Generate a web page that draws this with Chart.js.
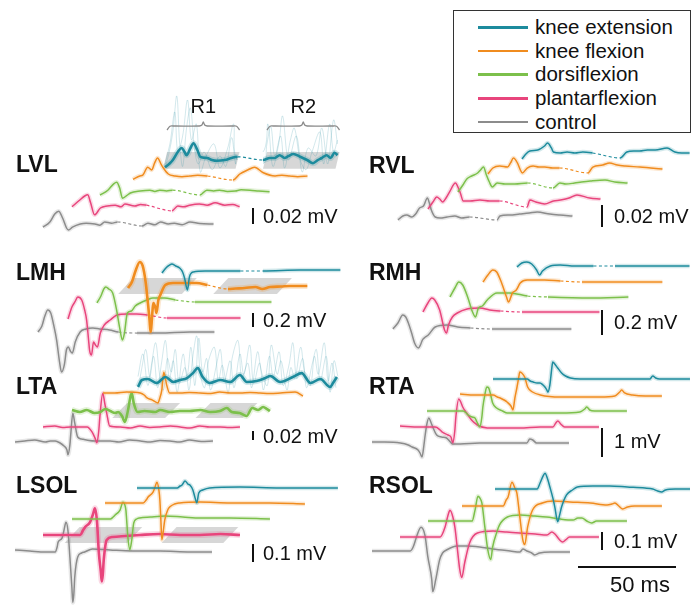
<!DOCTYPE html>
<html>
<head>
<meta charset="utf-8">
<script src="https://cdn.jsdelivr.net/npm/chart.js@4/dist/chart.umd.min.js"></script>
<style>
  body { margin: 0; background: #fff; font-family: "Liberation Sans", Arial, sans-serif; }
  #wrap { position: relative; width: 691px; height: 608px; overflow: hidden; }
  #wrap canvas { position: absolute; left: 0; top: 0; }
  .txt { position: absolute; line-height: 1; white-space: nowrap; color: #111; transform: translateY(-50%); }
  .name { font-weight: bold; font-size: 23px; }
  .unit { font-size: 20px; }
  .big { font-size: 22px; }
  .mid { transform: translate(-50%, -50%); }
  #legend { position: absolute; left: 453px; top: 10px; width: 236px; height: 121px; border: 1px solid #333; background: #fff; }
  #legend .sw { position: absolute; left: 24px; width: 50px; height: 2.5px; }
  #legend .lt { position: absolute; left: 81px; font-size: 20.5px; line-height: 1; transform: translateY(-50%); color: #111; }
</style>
</head>
<body>
<div id="wrap"><div id="legend"></div></div>
<script>
// conditions, bottom trace to top trace
const conditionNames = ['control', 'plantarflexion', 'dorsiflexion', 'knee flexion', 'knee extension'];
const conditionColors = ['#8c8c8c', '#e8457c', '#7cc04b', '#f08c1f', '#1d8b9d'];
const legendOrder = [4, 3, 2, 1, 0];
const panelNames = ['LVL', 'RVL', 'LMH', 'RMH', 'LTA', 'RTA', 'LSOL', 'RSOL'];
const scaleBarsMv = [0.02, 0.02, 0.2, 0.2, 0.02, 1, 0.1, 0.1];
const timeBarMs = 50;
const windowLabels = ['R1', 'R2'];

// traces: [ms from sweep start, µV from trace baseline]; null = cut between R1 and R2
const lvlControl = [[0,-4],[3.5,2.5],[6,12.5],[8,16],[10,7.5],[12,-5],[13,-7.5],[15,-4],[19,0],[22,1],[26.5,0],[29,-1.5],[31.5,2.5],[35,1],[38,2.5],[44,null],[50.5,-2.5],[53.5,1],[57,-1],[60,2.5],[64,0],[67,1],[71,-1],[75,2.5],[80,0.5],[87,0]];
const lvlPlantar = [[0,-1],[4,7.5],[6.5,12.5],[8,14],[9.5,4],[11.5,-11],[14.5,-2.5],[18,0],[22,1],[25,-1],[27,2.5],[32,0],[35,2],[38,1],[44.5,null],[51,-6],[54,0],[57,-1],[60,1],[65,2.5],[69,1],[73,4],[78,1],[82,2],[85.5,-1]];
const lvlDorsi = [[0,-5],[4,1],[7,9],[8.5,11],[10,4],[11.5,-9],[14,-5],[15.5,-2.5],[20.5,0],[25.5,1],[28,-0.5],[30.5,1],[34,0],[37,1],[44,null],[51,-5],[54.5,1],[58,0],[61,1],[65,-0.5],[69,0],[72,1.5],[76.5,1],[81,0],[86.5,-1]];
const lvlFlex = [[0,-4],[3.5,0],[5,1],[7.5,11],[9.5,7.5],[11,16],[12.5,22.5],[14.5,14],[15.5,10],[18,2.5],[21.5,0],[25,-1],[29,0],[33,1],[38,0],[44.5,null],[51,-5],[54.5,2.5],[58.5,7.5],[62,11],[66.5,4],[72.5,0],[76,1],[80,0],[84,-1],[89,0]];
const lvlExt = [[0,-9],[2.5,-4],[4,0],[6.5,10],[8.5,15],[10,10],[11,6],[13,15],[14.5,21],[16.5,12.5],[18,4],[21.5,2.5],[24,0],[26.5,-1],[30.5,0],[34,2.5],[37,4],[43.5,null],[50,0],[53.5,2.5],[56,2.5],[58.5,6],[61,2.5],[63,5],[65.5,7.5],[69,4],[72.5,0],[75.5,-4],[78,0],[80,2.5],[82.5,6],[84.5,2.5],[86.5,9],[88,6]];
const lvlExtTrialA = [[0,-10],[2,8],[4,35],[6,80],[7.5,20],[9,-8],[11,40],[13,65],[15,15],[17,-5],[20,10],[24,-12],[28,5],[31,-8],[34,28],[36,-5],[37,3],[43.5,null],[50,-5],[52,20],[54,42],[56,5],[59,30],[61,-10],[64,25],[66,40],[69,0],[72,-12],[75,10],[79,35],[81,-5],[84,45],[86,10],[88,25]];
const lvlExtTrialB = [[0,-5],[2.5,20],[5,60],[6.5,10],[9,30],[11.5,75],[13.5,25],[16,45],[18,-15],[21,5],[25,20],[28,-10],[32,15],[35,45],[37,0],[43.5,null],[50,10],[52.5,45],[55,-8],[58,20],[60,55],[63,0],[67,30],[70,-15],[73,15],[77,5],[80,40],[83,-5],[86,50],[88,20]];

const rvlControl = [[0,-2.7],[2.5,0.9],[4.5,1.8],[7,0],[9,2.7],[11,8.2],[13,10],[15,17.3],[16,12.7],[17,6.4],[19,0],[21.5,-0.9],[25,0],[29,0.9],[32.5,-0.9],[36.5,0],[43.5,null],[50.5,-2.7],[52,0.9],[57,1.8],[62,2.7],[67,3.6],[71,4.5],[77.5,2.7],[82.5,1.8],[89,0.9]];
const rvlPlantar = [[0,-7.3],[2.5,-0.9],[4.5,3.6],[6,1.8],[7.5,-0.9],[9.5,3.6],[11,8.2],[14,16.4],[15.5,11.8],[16.5,7.3],[18,0],[21.5,0],[26.5,0.9],[31.5,0],[36.5,0],[43.5,null],[50.5,-5.5],[52,0.9],[55,-0.9],[59.5,-2.7],[64,0],[67.5,0.9],[72,2.7],[76,5.5],[82.5,2.7],[88,1.8]];
const rvlDorsi = [[0,-6.4],[2.5,0],[4.5,5.5],[7,8.2],[10,10.9],[11.5,13.7],[13,16.4],[14.5,9.1],[16,2.7],[17.5,-1.8],[20,1.8],[24,0.9],[29,0.9],[35.5,1.8],[42,null],[48.5,-2.7],[52,1.8],[55,0.9],[59.5,1.8],[63,2.7],[67.5,3.6],[75,4.5],[80,2.7],[86.5,1.8]];
const rvlFlex = [[0,-3.6],[2.5,1.8],[6,3.6],[10,2.7],[11.5,6.4],[13,10.9],[15,6.4],[16.5,0],[17.5,-2.7],[20,1.8],[23,3.6],[26,2.7],[29,2.7],[33,1.8],[36.5,1.8],[44,null],[51,-2.7],[53.5,2.7],[58.5,4.5],[62,6.4],[66,4.5],[70,3.6],[77.5,2.7],[83,1.8],[89,0.9]];
const rvlExt = [[0,-4.5],[2,0],[4,2.7],[8,3.6],[11.5,7.3],[13,10],[15,5.5],[16,1.8],[19.5,0.9],[23,1.8],[27,0.9],[31,1.8],[36,0.9],[43,null],[50,-3.6],[53.5,1.8],[57,2.7],[60,2.7],[64,3.6],[68,3.6],[74,5.5],[78,1.8],[81.5,0.9],[85.5,0.9]];

const lmhControl = [[0,-14],[2,72],[3.5,215],[5,300],[6.5,257],[8,86],[9.5,-129],[11,-443],[12,-586],[13.5,-472],[14.5,-272],[15.5,-229],[16.5,-286],[17.5,-315],[19,-157],[21.5,-14],[24.5,29],[28,43],[31.5,29],[36.5,14],[41,-14],[46,null],[50.5,-29],[62,-29],[77.5,-14],[90,-14]];
const lmhPlantar = [[0,-14],[2,157],[3.5,229],[5,300],[7,257],[8.5,114],[9.5,-29],[10.5,-315],[11,-458],[12,-529],[13,-343],[14,-386],[15,-415],[16.5,-215],[18.5,-100],[21.5,-29],[25,43],[30,57],[35,57],[40.5,43],[45.5,null],[50.5,0],[67.5,0],[88,0]];
const lmhDorsi = [[0,-14],[2,86],[3.5,186],[4.5,215],[6,186],[8,129],[10,-114],[11.5,-358],[13,-543],[14,-443],[15.5,-157],[17.5,-129],[19.5,-57],[22,-14],[25.5,29],[28.5,57],[34.5,57],[40,29],[45,null],[50,0],[68,0],[89,0]];
const lmhFlex = [[0,-29],[2,57],[4,229],[6,343],[7.5,286],[9,57],[10,-200],[11,-486],[11.5,-658],[13,-243],[14,-315],[14.5,-386],[15.5,-200],[16.5,-129],[19,14],[23,43],[29,43],[35,43],[40.5,14],[46,null],[51,-43],[55,-36],[59.5,-29],[65,-14],[68.5,-43],[72.5,-14],[78,-7],[82.5,0],[91.5,0]];
const lmhExt = [[0,-29],[2,43],[4,86],[5,100],[7,72],[9,43],[10.5,-14],[11.5,-100],[13,-272],[14,-86],[16,-14],[22,0],[29.5,0],[40,0],[46,null],[51.5,0],[70.5,14],[91,14]];

const rmhControl = [[0,-8],[2.5,40],[5,104],[6.5,88],[8,32],[9.5,-40],[11,-120],[13,-160],[14,-136],[15,-96],[16.5,-72],[18,-56],[21.5,8],[27.5,24],[33,8],[39.5,0],[45,null],[50.5,-8],[70,-8],[91,-8]];
const rmhPlantar = [[0,-8],[2.5,64],[4.5,104],[6,88],[8.5,8],[11,-152],[12,-176],[13,-112],[15,-48],[17.5,-16],[22.5,16],[29,24],[34,8],[39.5,0],[45,null],[50.5,-8],[70,-8],[90,-8]];
const rmhDorsi = [[0,0],[2.5,72],[4.5,120],[6.5,96],[9,0],[11.5,-120],[13,-160],[14.5,-88],[16.5,-72],[19,-24],[24,32],[30.5,32],[39.5,8],[45,null],[50,0],[71.5,-8],[91,0]];
const rmhFlex = [[0,0],[2.5,56],[5,96],[7,80],[9.5,-8],[12,-120],[13,-160],[15,-88],[17,-64],[19,-8],[22.5,16],[31.5,16],[39.5,8],[45,null],[50.5,0],[70,0],[91.5,0]];
const rmhExt = [[0,-8],[2.5,24],[5,32],[7.5,16],[10,-32],[11.5,-72],[13,-40],[17,0],[22,8],[29.5,0],[39,0],[44.5,null],[50,0],[68,0],[88,0]];

const ltaControl = [[0,-2.2],[5,0],[10,2.2],[15.5,-2.2],[18,0],[20.5,0],[23,-4.4],[25,-11],[26.5,-19.8],[27,-30.8],[28,-8.8],[28.5,17.6],[29.5,61.6],[30.5,39.6],[32,8.8],[34,4.4],[36.5,2.2],[41,0],[48.5,0],[53,-2.2],[58.5,2.2],[64,0],[69,-2.2],[74,1.1],[79,0],[84,-2.2],[89,2.2],[95,-1.1],[101,0]];
const ltaPlantar = [[0,0],[6,2.2],[10,-1.1],[14,0],[19,0],[22.5,0],[25,-11],[26.5,-24.2],[27.5,-35.2],[28.5,-6.6],[29,22],[30.5,74.8],[31.5,52.8],[32.5,30.8],[34,2.2],[39.5,0],[44.5,-2.2],[49.5,2.2],[54.5,-1.1],[59.5,0],[65,2.2],[70,0],[75,-2.2],[80,2.2],[85,0],[90.5,0],[95,-1.1],[100.5,0]];
const ltaDorsi = [[0,2.2],[4,-2.2],[7.5,2.2],[11.5,-4.4],[14.5,-2.2],[17,4.4],[19.5,0],[22,-4.4],[23.5,-2.2],[25.5,-11],[27,-24.2],[28.5,0],[30,35.2],[30.5,39.6],[31.5,17.6],[33.5,-2.2],[37,0],[42.5,-2.2],[45,2.2],[50,-2.2],[55,0],[60,0],[65.5,2.2],[70.5,-2.2],[75.5,0],[79,6.6],[81.5,-2.2],[85.5,-4.4],[89,-11],[92,6.6],[95,2.2],[97.5,8.8],[99.5,4.4],[101,0]];
const ltaFlex = [[0,0],[6,0],[12,2.2],[19,0],[21,-4.4],[22.5,-11],[25,-15.4],[28,-22],[29,-11],[30,6.6],[31,46.2],[32,28.6],[32.5,17.6],[34,0],[39.5,0],[44,1.1],[49.5,0],[55,-1.1],[59.5,2.2],[65,0],[70,0],[75,1.1],[80,0],[85,-1.1],[90.5,0],[98,2.2],[102,-6.6]];
const ltaExt = [[0,-13.2],[2,2.2],[5,4.4],[9.5,-4.4],[14,8.8],[18,-2.2],[21.5,2.2],[25,6.6],[28,17.6],[30.5,28.6],[33,8.8],[36.5,-4.4],[42,2.2],[47,-2.2],[52,13.2],[55.5,-2.2],[60.5,0],[65,6.6],[67.5,11],[72.5,-2.2],[79,8.8],[83.5,17.6],[88,-4.4],[93,4.4],[98,-13.2],[99.5,-4.4],[101.5,8.8]];
const ltaExtTrialA = [[0,-20],[2,30],[4,70],[6,10],[8,55],[10,-15],[12,40],[14,90],[16,5],[18,45],[20,-25],[23,60],[25,10],[27,75],[29,-10],[31,95],[33,20],[35,50],[37,-20],[40,35],[42,70],[44,0],[47,45],[49,-15],[52,60],[54,15],[57,80],[59,-5],[62,40],[64,-20],[67,55],[69,10],[72,65],[74,-10],[77,35],[79,85],[81,5],[84,50],[86,-15],[89,40],[91,70],[93,0],[96,55],[98,-25],[100,45],[102,10]];
const ltaExtTrialB = [[0,10],[2.5,60],[5,-10],[7,40],[9,85],[11,15],[13,-20],[15,50],[17,20],[19,70],[21,-5],[24,30],[26,-20],[28,55],[30,100],[32,10],[34,-15],[36,45],[39,75],[41,0],[43,35],[46,-25],[48,50],[51,90],[53,5],[56,40],[58,-15],[61,65],[63,20],[66,-10],[68,80],[71,15],[73,45],[76,-20],[78,30],[80,5],[83,75],[85,20],[88,-10],[90,55],[92,15],[95,85],[97,0],[99,40],[101,-15]];

const rtaControl = [[0,34],[6.5,34],[14.5,0],[18.5,-69],[20.5,-138],[23.5,-242],[24.5,-345],[25.5,-483],[26.5,-69],[27,207],[28,656],[29,863],[30,725],[31,552],[33,276],[35.5,207],[38,173],[40,34],[41,-34],[45,-34],[55,0],[65.5,0],[75.5,0],[79,0],[80.5,138],[82,104],[84,0],[91,0],[100.5,0]];
const rtaPlantar = [[0,35],[10,0],[18,0],[20.5,-104],[21.5,-173],[24.5,-276],[26,-345],[27,-552],[28,-104],[28.5,345],[30,966],[31,863],[32,690],[34,483],[36.5,242],[39.5,69],[44.5,-35],[51,-35],[61,-35],[71.5,0],[78,0],[79.5,138],[80.5,207],[82,104],[84,0],[92,0],[101.5,0]];
const rtaDorsi = [[0,35],[9,35],[18.5,35],[20,-35],[21,-104],[23,-173],[24.5,-207],[25.5,-345],[27,-518],[28,-173],[28.5,173],[29.5,587],[30.5,863],[31.5,828],[32.5,587],[33.5,311],[35.5,138],[38.5,35],[41,-35],[47.5,-35],[57.5,-35],[68,-35],[78,0],[80.5,104],[81.5,173],[83,69],[85.5,35],[93.5,35],[102,35]];
const rtaFlex = [[0,69],[7.5,35],[17,35],[19,-35],[20.5,-69],[22.5,-138],[24,-207],[26,-345],[27,-483],[28,-69],[29,276],[30,656],[30.5,828],[31.5,794],[33,656],[34.5,311],[37,138],[41,35],[51,-35],[61,-35],[71.5,-35],[79,0],[81.5,138],[82.5,207],[84,104],[88,35],[94.5,0],[103,0]];
const rtaExt = [[0,0],[8.5,0],[17.5,0],[19,-69],[20.5,-104],[22.5,-138],[24,-138],[25.5,-207],[26.5,-276],[27.5,-380],[28,-449],[29,-207],[29.5,69],[30,380],[30.5,587],[31.5,518],[33,380],[35,207],[37,104],[39.5,35],[44.5,0],[54.5,0],[70,0],[80,0],[81.5,104],[83,35],[85,0],[100.5,0]];

const lsolControl = [[0,5.5],[7.5,0],[15.5,-5.5],[20.5,-5.5],[21.5,22],[22,49.5],[24,71.5],[25,115.5],[26,159.5],[27,115.5],[28,-33],[29,-198],[29.5,-286],[30,-242],[30.5,-143],[32,-33],[34,-11],[35.5,-5.5],[39.5,11],[48.5,5.5],[60,0],[74,0],[89.5,-5.5],[100.5,-5.5]];
const lsolPlantar = [[0,0],[8.5,0],[19,0],[20.5,27.5],[21.5,44],[24,71.5],[25.5,115.5],[26.5,148.5],[27.5,82.5],[28.5,-99],[29.5,-203.5],[30,-258.5],[30.5,-220],[31,-137.5],[32.5,-27.5],[35.5,-11],[42,-5.5],[49.5,0],[59.5,5.5],[70,0],[80,0],[90.5,5.5],[100.5,0]];
const lsolDorsi = [[0,0],[9,0],[19.5,0],[21,11],[22,22],[24.5,49.5],[26,93.5],[27,77],[27.5,49.5],[28.5,-99],[29.5,-170.5],[30.5,-115.5],[31.5,-22],[33,0],[34.5,5.5],[40,11],[47.5,16.5],[56.5,11],[65.5,5.5],[80.5,5.5],[101,0]];
const lsolFlex = [[0,0],[10,0],[19.5,0],[21,16.5],[22,33],[24.5,60.5],[25.5,88],[26.5,115.5],[27.5,71.5],[28,16.5],[28.5,-93.5],[29,-203.5],[29.5,-176],[30.5,-93.5],[32,-38.5],[33,-22],[35.5,-5.5],[38,0],[48.5,5.5],[64,0],[84,0],[102,-5.5]];
const lsolExt = [[0,0],[11.5,0],[20.5,0],[22,11],[23,16.5],[24.5,38.5],[26,22],[27,16.5],[28.5,-11],[29.5,-49.5],[30.5,-82.5],[31.5,-27.5],[33.5,-11],[37,0],[52.5,5.5],[73,0],[102.5,0]];

const rsolControl = [[0,0],[9,0],[19.5,0],[21,22],[23,88],[25,132],[27,88],[28.5,-33],[30.5,-159.5],[31,-225.5],[32.5,-159.5],[34.5,-49.5],[36,-11],[38,5.5],[43.5,27.5],[48.5,27.5],[55,22],[61.5,11],[70.5,0],[75.5,-5.5],[77,11],[79,0],[81.5,-11],[83,-22],[85.5,-11],[91,-5.5],[101,-5.5]];
const rsolPlantar = [[0,0],[10,0],[20.5,0],[23,55],[24.5,121],[25.5,148.5],[27,110],[28,55],[29.5,-88],[30.5,-181.5],[31.5,-225.5],[33,-143],[35.5,-33],[39.5,22],[47.5,33],[54.5,27.5],[61,22],[69,16.5],[75,11],[77.5,27.5],[79.5,11],[81.5,-16.5],[83,-27.5],[84.5,-16.5],[86.5,0],[94.5,0],[101.5,0]];
const rsolDorsi = [[0,0],[11,0],[22.5,0],[24,60.5],[25.5,137.5],[26.5,126.5],[27.5,99],[29,-33],[30.5,-159.5],[32,-214.5],[33,-143],[35,-66],[36.5,-22],[40.5,22],[47,33],[54.5,27.5],[60.5,22],[67.5,11],[74,5.5],[76.5,16.5],[78.5,16.5],[81,0],[83.5,-11],[86,0],[93,0],[101.5,0]];
const rsolFlex = [[0,0],[9,0],[21,0],[22.5,33],[23.5,49.5],[25.5,132],[27,99],[28,71.5],[29.5,-60.5],[31,-187],[32,-214.5],[33.5,-115.5],[36,-22],[41,16.5],[46.5,27.5],[55,22],[65.5,16.5],[74,5.5],[76.5,11],[78,16.5],[80,0],[82,-16.5],[84.5,-5.5],[88,0],[102,0]];
const rsolExt = [[0,0],[10,0],[21.5,0],[23,33],[24.5,71.5],[25.5,88],[27,49.5],[28,11],[29.5,-49.5],[30.5,-99],[32,-181.5],[33,-143],[34,-99],[36.5,-33],[39.5,-5.5],[42,11],[50,16.5],[58.5,16.5],[67.5,11],[76.5,5.5],[80.5,0],[83,-11],[85,-16.5],[87,-5.5],[92,0],[99.5,0]];

// R1 / R2 analysis windows (ms from sweep start, lower edge) and their amplitude span (µV)
const lvlWindows = [[-1, 36], [50, 87]];
const lvlBand = [-11, 10];
const lmhWindows = [[-5, 27.5], [43.5, 76]];
const lmhBand = [-114, 114];
const ltaWindows = [[20.5, 47.5], [63, 87]];
const ltaBand = [-15.4, 17.6];
const lsolWindows = [[11, 43], [60.5, 92]];
const lsolBand = [-44, 44];

const panelTraces = {
  LVL: [lvlControl, lvlPlantar, lvlDorsi, lvlFlex, lvlExt],
  RVL: [rvlControl, rvlPlantar, rvlDorsi, rvlFlex, rvlExt],
  LMH: [lmhControl, lmhPlantar, lmhDorsi, lmhFlex, lmhExt],
  RMH: [rmhControl, rmhPlantar, rmhDorsi, rmhFlex, rmhExt],
  LTA: [ltaControl, ltaPlantar, ltaDorsi, ltaFlex, ltaExt],
  RTA: [rtaControl, rtaPlantar, rtaDorsi, rtaFlex, rtaExt],
  LSOL: [lsolControl, lsolPlantar, lsolDorsi, lsolFlex, lsolExt],
  RSOL: [rsolControl, rsolPlantar, rsolDorsi, rsolFlex, rsolExt],
};
const panelTrials = {
  LVL: {trace: 4, lines: [lvlExtTrialA, lvlExtTrialB]},
  LTA: {trace: 4, lines: [ltaExtTrialA, ltaExtTrialB]},
};
const panelBands = {
  LVL: {trace: 4, windows: lvlWindows, range: lvlBand, skewPx: 4, brackets: true},
  LMH: {trace: 3, windows: lmhWindows, range: lmhBand, skewPx: 15},
  LTA: {trace: 2, windows: ltaWindows, range: ltaBand, skewPx: 15},
  LSOL: {trace: 1, windows: lsolWindows, range: lsolBand, skewPx: 15},
};
const boldTraces = {LVL: [4], LMH: [3], LTA: [2, 4], LSOL: [1]};

// page layout: sweep start / baseline of each trace (px), scale bar, labels
const W = 691, H = 608, PX_PER_MS = 1.96;
const geometry = {
  LVL:  {starts: [[43,224],[72,206],[100,191],[133,176],[165,160]], barPx: 16, bar: [253,224], label: [16,164], text: [263,216]},
  RVL:  {starts: [[398,217],[428,201],[458,185],[488,170],[522,154]], barPx: 22, bar: [602,227], label: [369,165], text: [614,216]},
  LMH:  {starts: [[38,331],[68,318],[97,302],[128,286],[162,271]], barPx: 14, bar: [253,327], label: [16,272], text: [263,320]},
  RMH:  {starts: [[393,328],[423,311],[450,297],[483,282],[517,266]], barPx: 25, bar: [602,335], label: [369,272], text: [614,322]},
  LTA:  {starts: [[15,441],[43,427],[72,411],[103,393],[138,381]], barPx: 9, bar: [253,440], label: [16,386], text: [263,436]},
  RTA:  {starts: [[372,443],[400,427],[427,412],[460,396],[493,379]], barPx: 29, bar: [602,457], label: [369,386], text: [614,441]},
  LSOL: {starts: [[15,551],[43,535],[72,519],[105,503],[137,488]], barPx: 18, bar: [253,562], label: [16,485], text: [263,553]},
  RSOL: {starts: [[372,551],[400,537],[428,521],[462,506],[495,489]], barPx: 18, bar: [602,550], label: [369,485], text: [614,541]},
};
const timeBarAt = [578, 567];
const timeTextAt = [640, 585];
const bracketY = 126;

const wrap = document.getElementById('wrap');
const alpha = (hex, a) => {
  const n = parseInt(hex.slice(1), 16);
  return `rgba(${n >> 16},${(n >> 8) & 255},${n & 255},${a})`;
};
const skipped = ctx => ctx.p0.skip || ctx.p1.skip;

const addText = (txt, cls, x, y) => {
  const d = document.createElement('div');
  d.className = 'txt ' + cls;
  d.textContent = txt;
  d.style.left = x + 'px';
  d.style.top = y + 'px';
  wrap.appendChild(d);
};

const buildPanel = (name, idx) => {
  const g = geometry[name];
  const uvPerPx = scaleBarsMv[idx] * 1000 / g.barPx;
  const [x0, y0] = g.starts[0];
  const msAt = px => (px - x0) / PX_PER_MS;
  const uvAt = py => (y0 - py) * uvPerPx;
  const place = (arr, i, dx = 0) => {
    const ox = msAt(g.starts[i][0]) + dx, oy = uvAt(g.starts[i][1]);
    return arr.map(([t, v]) => ({x: t + ox, y: v === null ? null : v + oy}));
  };
  const datasets = [];

  const band = panelBands[name];
  if (band) {
    const sk = band.skewPx / PX_PER_MS;
    const [lo, hi] = band.range;
    band.windows.forEach(([a, b]) => {
      datasets.push({
        data: place([[a, lo], [a + sk, hi], [b + sk, hi], [b, lo], [a, lo]], band.trace),
        fill: 'shape', backgroundColor: 'rgba(200,200,200,0.72)', borderWidth: 0,
        borderColor: 'rgba(0,0,0,0)', tension: 0, order: 1000
      });
    });
  }

  const trials = panelTrials[name];
  if (trials) {
    trials.lines.forEach(line => {
      datasets.push({
        data: place(line, trials.trace), borderColor: alpha(conditionColors[trials.trace], 0.22),
        borderWidth: 0.9, tension: 0.35, spanGaps: true, order: 500,
        segment: {borderColor: ctx => skipped(ctx) ? 'rgba(0,0,0,0)' : undefined}
      });
    });
  }

  const bold = boldTraces[name] || [];
  panelTraces[name].forEach((tr, i) => {
    const color = conditionColors[i];
    const thick = bold.includes(i);
    const data = place(tr, i);
    datasets.push({
      data, borderColor: alpha(color, 0.2), borderWidth: thick ? 6 : 4.5,
      cubicInterpolationMode: 'monotone', spanGaps: true, order: 100 - i,
      segment: {borderColor: ctx => skipped(ctx) ? 'rgba(0,0,0,0)' : undefined}
    });
    datasets.push({
      data, borderColor: color, borderWidth: thick ? 2.6 : 1.5,
      cubicInterpolationMode: 'monotone', spanGaps: true, order: 10 - i,
      segment: {
        borderDash: ctx => skipped(ctx) ? [3, 2.5] : undefined,
        borderWidth: ctx => skipped(ctx) ? 1.2 : undefined
      }
    });
  });

  // amplitude scale bar
  const [bx, by] = g.bar;
  datasets.push({
    data: [{x: msAt(bx), y: uvAt(by)}, {x: msAt(bx), y: uvAt(by) + scaleBarsMv[idx] * 1000}],
    borderColor: '#111', borderWidth: 2, tension: 0, order: 0
  });

  if (name === 'RSOL') {
    const tx = msAt(timeBarAt[0]), ty = uvAt(timeBarAt[1]);
    datasets.push({
      data: [{x: tx, y: ty}, {x: tx + timeBarMs, y: ty}],
      borderColor: '#111', borderWidth: 2, tension: 0, order: 0
    });
  }

  if (band && band.brackets) {
    const sk = band.skewPx / PX_PER_MS;
    const ox = msAt(g.starts[band.trace][0]) + sk;
    band.windows.forEach(([a, b]) => {
      const l = a + ox, r = b + ox, m = (l + r) / 2;
      datasets.push({
        data: [[l, 4], [l + 1.5, 0.3], [l + 3, 0], [m - 2, 0], [m - 0.7, -1], [m, -4], [m + 0.7, -1], [m + 2, 0], [r - 3, 0], [r - 1.5, 0.3], [r, 4]]
          .map(([x, dy]) => ({x, y: uvAt(bracketY + dy)})),
        borderColor: '#8a8a8a', borderWidth: 1.3, tension: 0.35, order: 0
      });
    });
  }

  const canvas = document.createElement('canvas');
  canvas.width = W;
  canvas.height = H;
  wrap.insertBefore(canvas, document.getElementById('legend'));
  const chart = new Chart(canvas, {
    type: 'line',
    data: {datasets},
    options: {
      animation: false, responsive: false, devicePixelRatio: 1, events: [],
      layout: {padding: 0},
      elements: {point: {radius: 0}, line: {fill: false}},
      plugins: {legend: {display: false}, tooltip: {enabled: false}},
      scales: {
        x: {type: 'linear', display: false, min: msAt(0), max: msAt(W)},
        y: {type: 'linear', display: false, min: uvAt(H), max: uvAt(0)}
      }
    }
  });

  addText(name, 'name', g.label[0], g.label[1]);
  const mv = scaleBarsMv[idx];
  addText(`${mv} mV`, 'unit', g.text[0], g.text[1]);

  if (band && band.brackets) {
    const sk = band.skewPx / PX_PER_MS;
    const ox = msAt(g.starts[band.trace][0]) + sk;
    band.windows.forEach(([a, b], k) => {
      const px = chart.scales.x.getPixelForValue((a + b) / 2 + ox);
      addText(windowLabels[k], 'unit mid', px, 106);
    });
  }
  if (name === 'RSOL') {
    addText(`${timeBarMs} ms`, 'big mid', timeTextAt[0], timeTextAt[1]);
  }
};

panelNames.forEach(buildPanel);

// legend
const legend = document.getElementById('legend');
legendOrder.forEach((ci, row) => {
  const y = 16 + row * 23.7;
  const sw = document.createElement('div');
  sw.className = 'sw';
  sw.style.top = (y - 1) + 'px';
  sw.style.background = conditionColors[ci];
  const lt = document.createElement('div');
  lt.className = 'lt';
  lt.style.top = y + 'px';
  lt.textContent = conditionNames[ci];
  legend.appendChild(sw);
  legend.appendChild(lt);
});
</script>
</body>
</html>
